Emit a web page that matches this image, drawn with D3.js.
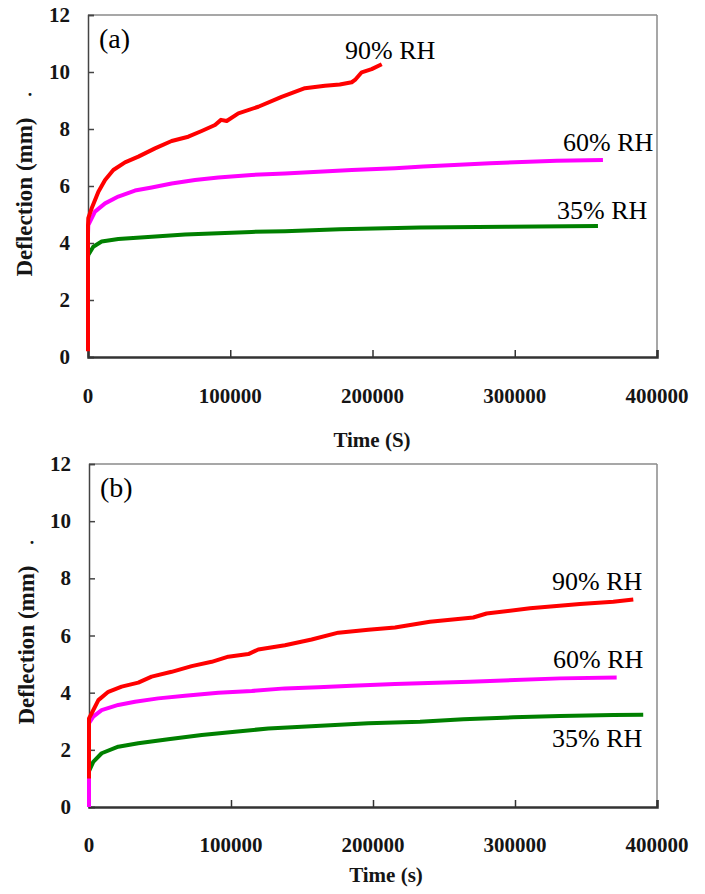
<!DOCTYPE html>
<html>
<head>
<meta charset="utf-8">
<script src="https://cdn.jsdelivr.net/npm/d3@7"></script>
<style>
  body { margin: 0; background: #fff; }
  svg { display: block; }
</style>
</head>
<body>
<div id="chart"></div>
<script>
var serif = "'Liberation Serif', 'Times New Roman', Times, 'DejaVu Serif', serif";

// axis ticks (shared by both panels)
var xTicks = [0, 100000, 200000, 300000, 400000];
var yTicks = [0, 2, 4, 6, 8, 10, 12];
var seriesNames = ["90% RH", "60% RH", "35% RH"];
var seriesColors = ["#ff0000", "#ff00ff", "#008000"];

// panel (a): [time s, deflection mm]
var a90 = [[0, 0.2], [0, 4.6], [200, 4.87], [2600, 5.22], [7300, 5.8], [12000, 6.21], [17800, 6.56],
  [26000, 6.83], [35400, 7.03], [47100, 7.32], [58800, 7.58], [70500, 7.73], [79900, 7.93],
  [89300, 8.14], [93500, 8.32], [97500, 8.28], [105700, 8.55], [119700, 8.78], [136100, 9.13],
  [152500, 9.43], [166600, 9.52], [177000, 9.56], [185400, 9.64], [187700, 9.72], [192400, 9.99],
  [199400, 10.1], [206500, 10.27]];
var a60 = [[0, 4.3], [200, 4.63], [4900, 5.1], [12000, 5.39], [21300, 5.63], [33000, 5.84],
  [44800, 5.95], [58800, 6.09], [75200, 6.21], [91600, 6.3], [115000, 6.39], [138500, 6.44],
  [161900, 6.5], [185400, 6.56], [215800, 6.62], [235700, 6.68], [282600, 6.8], [329500, 6.89],
  [362000, 6.91]];
var a35 = [[0, 3.5], [200, 3.58], [3700, 3.87], [9600, 4.05], [21300, 4.14], [44800, 4.22],
  [68200, 4.3], [91600, 4.34], [115000, 4.39], [138500, 4.41], [177000, 4.48], [233400, 4.54],
  [294300, 4.57], [358500, 4.6]];

// panel (b)
var b90 = [[0, 1.0], [0, 3.1], [1900, 3.28], [6600, 3.74], [13600, 4.03], [23000, 4.21], [34700, 4.35],
  [44100, 4.56], [58200, 4.73], [72300, 4.93], [86400, 5.08], [98100, 5.26], [112200, 5.35],
  [119200, 5.51], [138000, 5.66], [156800, 5.86], [175600, 6.1], [196700, 6.2], [215500, 6.28],
  [240100, 6.48], [270600, 6.63], [280000, 6.77], [310600, 6.95], [345800, 7.1], [369200, 7.18],
  [383300, 7.26]];
var b60 = [[0, 0], [0, 2.93], [3000, 3.16], [8900, 3.39], [20600, 3.57], [32400, 3.68], [48800, 3.8],
  [67600, 3.89], [91100, 4.0], [114600, 4.06], [138000, 4.15], [161500, 4.19], [185000, 4.24],
  [215500, 4.3], [268300, 4.38], [331700, 4.5], [371600, 4.53]];
var b35 = [[0, 0], [0, 1.25], [3000, 1.58], [8900, 1.88], [20600, 2.11], [34700, 2.23], [55800, 2.37],
  [79400, 2.52], [102800, 2.63], [126300, 2.75], [149800, 2.81], [173200, 2.87], [196700, 2.93],
  [233100, 2.98], [263600, 3.07], [298800, 3.14], [331700, 3.18], [369200, 3.22], [390300, 3.23]];

var svg = d3.select("#chart").append("svg")
  .attr("width", 705)
  .attr("height", 894);

function drawPanel(p) {
  var x = d3.scaleLinear().domain([0, 400000]).range([p.left, p.right]);
  var y = d3.scaleLinear().domain([0, 12]).range([p.bottom, p.top]);
  var g = svg.append("g");

  // frame
  g.append("line").attr("x1", p.left).attr("x2", p.right).attr("y1", p.top).attr("y2", p.top)
    .attr("stroke", "#8a8a8a").attr("stroke-width", 1.5);
  g.append("line").attr("x1", p.right).attr("x2", p.right).attr("y1", p.top).attr("y2", p.bottom)
    .attr("stroke", "#8a8a8a").attr("stroke-width", 1.5);

  // y axis, ticks pointing inside
  var ya = g.append("g").attr("transform", "translate(" + p.left + ",0)")
    .call(d3.axisRight(y).tickValues(yTicks).tickSize(6).tickFormat(""));
  ya.select(".domain").attr("stroke", "#444").attr("stroke-width", 1.5);
  ya.selectAll(".tick line").attr("stroke", "#444").attr("stroke-width", 1.5);
  g.selectAll(".ylab").data(yTicks).enter().append("text")
    .attr("font-family", serif).attr("font-weight", "bold").attr("font-size", 21).attr("fill", "#151515")
    .attr("x", p.left - 18)
    .attr("y", function (d) { return y(d) + 7; })
    .attr("text-anchor", "end")
    .text(function (d) { return d; });

  // x axis, ticks pointing up
  var xa = g.append("g").attr("transform", "translate(0," + p.bottom + ")")
    .call(d3.axisTop(x).tickValues(xTicks).tickSize(7).tickFormat(""));
  xa.select(".domain").attr("stroke", "#333").attr("stroke-width", 2.5);
  xa.selectAll(".tick line").attr("stroke", "#333").attr("stroke-width", 1.5);
  g.selectAll(".xlab").data(xTicks).enter().append("text")
    .attr("font-family", serif).attr("font-weight", "bold").attr("font-size", 21).attr("fill", "#151515")
    .attr("x", function (d) { return x(d); })
    .attr("y", p.bottom + p.xLabOff)
    .attr("text-anchor", "middle")
    .text(function (d) { return d; });

  // curves
  var line = d3.line().x(function (d) { return x(d[0]); }).y(function (d) { return y(d[1]); });
  p.series.slice().reverse().forEach(function (s, i) {
    var k = p.series.length - 1 - i;
    g.append("path").datum(s)
      .attr("d", line)
      .attr("fill", "none")
      .attr("stroke", seriesColors[k])
      .attr("stroke-width", 4)
      .attr("stroke-linejoin", "round");
  });

  // curve labels
  p.labelPos.forEach(function (lp, i) {
    g.append("text")
      .attr("font-family", serif).attr("font-size", 26).attr("fill", "#000")
      .attr("x", lp[0]).attr("y", lp[1])
      .text(seriesNames[i]);
  });

  // panel tag
  g.append("text")
    .attr("font-family", serif).attr("font-size", 28).attr("fill", "#000")
    .attr("x", p.left + 11).attr("y", p.top + p.tagOff)
    .text(p.tag);

  // axis titles
  g.append("text")
    .attr("font-family", serif).attr("font-weight", "bold").attr("font-size", 21).attr("fill", "#151515")
    .attr("x", p.xTitle[0]).attr("y", p.xTitle[1])
    .attr("text-anchor", "middle")
    .text(p.xTitleText);
  g.append("text")
    .attr("font-family", serif).attr("font-weight", "bold").attr("font-size", 23).attr("fill", "#151515")
    .attr("transform", "translate(" + p.yTitle[0] + "," + p.yTitle[1] + ") rotate(-90)")
    .attr("text-anchor", "middle")
    .text("Deflection (mm)");
  g.append("text")
    .attr("font-family", serif).attr("font-weight", "bold").attr("font-size", 18).attr("fill", "#151515")
    .attr("x", p.dot[0]).attr("y", p.dot[1])
    .attr("text-anchor", "middle")
    .text(".");
}

drawPanel({
  left: 88, right: 657, top: 15, bottom: 357,
  series: [a90, a60, a35],
  labelPos: [[345, 59], [563, 151], [557, 219]],
  tag: "(a)", tagOff: 33,
  xLabOff: 46, xTitle: [372, 447], xTitleText: "Time (S)",
  yTitle: [32, 197], dot: [30, 96]
});

drawPanel({
  left: 89, right: 657, top: 464, bottom: 807,
  series: [b90, b60, b35],
  labelPos: [[552, 590], [553, 668], [552, 747]],
  tag: "(b)", tagOff: 33,
  xLabOff: 45, xTitle: [386, 882], xTitleText: "Time (s)",
  yTitle: [34, 645], dot: [32, 544]
});
</script>
</body>
</html>
